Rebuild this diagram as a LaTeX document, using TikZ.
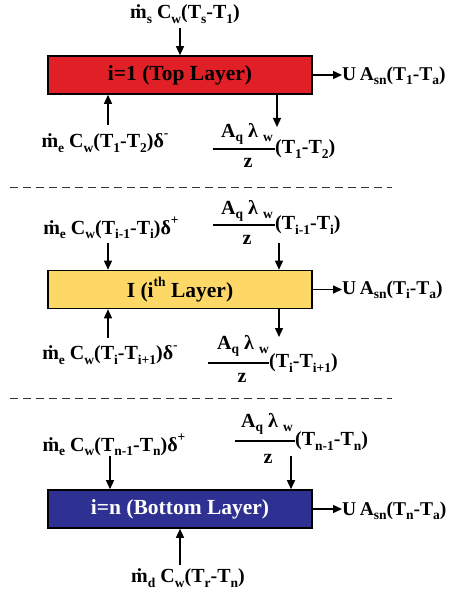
\documentclass[tikz,border=0pt]{standalone}
\usepackage{fontspec}
\setmainfont{Liberation Serif}
\usetikzlibrary{arrows.meta}
\definecolor{lred}{HTML}{E01F26}
\definecolor{lyel}{HTML}{FDD867}
\definecolor{lnavy}{HTML}{2E3192}
\newcommand\sbs[1]{\raisebox{-0.22em}{\fontsize{13.5}{13.5}\selectfont #1}}
\newcommand\sps[1]{\raisebox{0.5em}{\fontsize{13.5}{13.5}\selectfont #1}}
\begin{document}
\begin{tikzpicture}[x=1pt,y=-1pt,
  font=\fontsize{20}{24}\selectfont\bfseries,
  layer/.style={draw=black, line width=1.6pt, minimum width=264pt, minimum height=38pt, inner sep=0pt, font=\fontsize{21.5}{24}\selectfont\bfseries},
  lbl/.style={inner sep=0pt},
  rlbl/.style={inner sep=0pt, anchor=west, font=\fontsize{19.5}{24}\selectfont\bfseries},
  arr/.style={line width=1.4pt, -{Triangle[length=9pt,width=8pt]}},
  sepline/.style={line width=0.9pt, dash pattern=on 8pt off 5pt, draw=black!80},
  fbar/.style={line width=1.2pt}]
\useasboundingbox (0,0) rectangle (449,593);

% ---- Layer 1
\node[layer, fill=lred] (b1) at (180,75) {i=1 (Top Layer)};
\node[lbl] (t1) at (185,14) {ṁ\sbs{s} C\sbs{w}(T\sbs{s}-T\sbs{1})};
\coordinate (t1a) at (180,28);
\draw[arr] (t1a) -- (t1a |- b1.north);
\node[rlbl] (r1) at (342,76) {U\hspace{0.18em}A\sbs{sn}(T\sbs{1}-T\sbs{a})};
\draw[arr] (b1.east) -- (b1.east -| r1.west);
\node[lbl] (l1) at (105,143) {ṁ\sbs{e} C\sbs{w}(T\sbs{1}-T\sbs{2})δ\sps{-}};
\coordinate (l1a) at (108,125);
\draw[arr] (l1a) -- (l1a |- b1.south);
\coordinate (d1) at (277,127);
\draw[arr] (d1 |- b1.south) -- (d1);
\node[lbl] (n1) at (247,134) {A\sbs{q} λ \sbs{w}};
\coordinate (f1a) at (213,149);
\coordinate (f1b) at (275,149);
\draw[fbar] (f1a) -- (f1b);
\node[lbl] (z1) at (248,163) {z};
\node[lbl, anchor=west] (p1) at (f1b) {(T\sbs{1}-T\sbs{2})};

\coordinate (s1a) at (10,187);
\coordinate (s1b) at (392,187);
\draw[sepline] (s1a) -- (s1b);

% ---- Layer i
\node[layer, fill=lyel] (b2) at (180,289.5) {I (i\sps{th} Layer)};
\node[lbl] (t2) at (111,228) {ṁ\sbs{e} C\sbs{w}(T\sbs{i-1}-T\sbs{i})δ\sps{+}};
\coordinate (t2a) at (108,243);
\draw[arr] (t2a) -- (t2a |- b2.north);
\node[lbl] (n2) at (247,211) {A\sbs{q} λ \sbs{w}};
\coordinate (f2a) at (213,225);
\coordinate (f2b) at (275,225);
\draw[fbar] (f2a) -- (f2b);
\node[lbl] (z2) at (247,240) {z};
\node[lbl, anchor=west] (p2) at (f2b) {(T\sbs{i-1}-T\sbs{i})};
\coordinate (t2b) at (279,243);
\draw[arr] (t2b) -- (t2b |- b2.north);
\node[rlbl] (r2) at (342,290) {U\hspace{0.18em}A\sbs{sn}(T\sbs{i}-T\sbs{a})};
\draw[arr] (b2.east) -- (b2.east -| r2.west);
\node[lbl] (l2) at (110,355) {ṁ\sbs{e} C\sbs{w}(T\sbs{i}-T\sbs{i+1})δ\sps{-}};
\coordinate (l2a) at (108,338);
\draw[arr] (l2a) -- (l2a |- b2.south);
\coordinate (d2) at (279,337);
\draw[arr] (d2 |- b2.south) -- (d2);
\node[lbl] (n3) at (243,346) {A\sbs{q} λ \sbs{w}};
\coordinate (f3a) at (208,363);
\coordinate (f3b) at (269,363);
\draw[fbar] (f3a) -- (f3b);
\node[lbl] (z3) at (242,378) {z};
\node[lbl, anchor=west] (p3) at (f3b) {(T\sbs{i}-T\sbs{i+1})};

\coordinate (s2a) at (10,398);
\coordinate (s2b) at (392,398);
\draw[sepline] (s2a) -- (s2b);

% ---- Layer n
\node[layer, fill=lnavy, text=white] (b3) at (180,509) {i=n (Bottom Layer)};
\node[lbl] (t3) at (114,445) {ṁ\sbs{e} C\sbs{w}(T\sbs{n-1}-T\sbs{n})δ\sps{+}};
\coordinate (t3a) at (110,456);
\draw[arr] (t3a) -- (t3a |- b3.north);
\node[lbl] (n4) at (267,424) {A\sbs{q} λ \sbs{w}};
\coordinate (f4a) at (235,441);
\coordinate (f4b) at (295,441);
\draw[fbar] (f4a) -- (f4b);
\node[lbl] (z4) at (268,459) {z};
\node[lbl, anchor=west] (p4) at (f4b) {(T\sbs{n-1}-T\sbs{n})};
\coordinate (t3b) at (291,456);
\draw[arr] (t3b) -- (t3b |- b3.north);
\node[rlbl] (r3) at (342,511) {U\hspace{0.18em}A\sbs{sn}(T\sbs{n}-T\sbs{a})};
\draw[arr] (b3.east) -- (b3.east -| r3.west);
\node[lbl] (bt3) at (188,578) {ṁ\sbs{d} C\sbs{w}(T\sbs{r}-T\sbs{n})};
\coordinate (bt3a) at (180,565);
\draw[arr] (bt3a) -- (bt3a |- b3.south);
\end{tikzpicture}
\end{document}
